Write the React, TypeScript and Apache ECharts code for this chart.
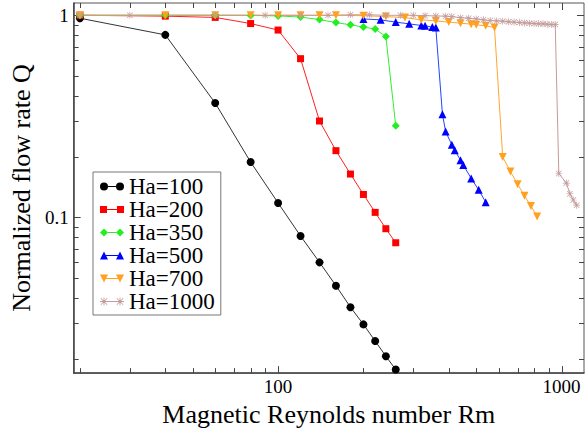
import React, { useEffect, useRef } from "react";
import * as echarts from "echarts";

const SERIF = "Liberation Serif";

const seriesNames = ["Ha=100", "Ha=200", "Ha=350", "Ha=500", "Ha=700", "Ha=1000"];

const ha100X = [20, 40, 60, 80, 100, 120, 140, 160, 180, 200, 220, 240, 260];
const ha100Y = [0.967, 0.8, 0.368, 0.188, 0.118, 0.081, 0.06, 0.046, 0.036, 0.0296, 0.0245, 0.0206, 0.0177];

const ha200X = [20, 40, 60, 80, 100, 120, 140, 160, 180, 200, 220, 240, 260];
const ha200Y = [1.0, 0.99, 0.976, 0.91, 0.845, 0.61, 0.3, 0.214, 0.164, 0.13, 0.106, 0.088, 0.075];

const ha350X = [20, 40, 60, 80, 100, 120, 140, 160, 180, 200, 220, 240, 260];
const ha350Y = [1.0, 1.0, 1.0, 0.998, 0.993, 0.98, 0.952, 0.92, 0.897, 0.874, 0.855, 0.785, 0.284];

const ha500X = [200, 230, 260, 290, 320, 330, 350, 360, 380, 390, 410, 420, 440, 450, 480, 510, 540];
const ha500Y = [0.959, 0.949, 0.925, 0.907, 0.89, 0.887, 0.874, 0.87, 0.324, 0.266, 0.229, 0.215, 0.192, 0.182, 0.156, 0.137, 0.119];

const ha700X = [20, 40, 60, 80, 100, 120, 140, 160, 200, 240, 280, 320, 360, 400, 440, 480, 500, 540, 580, 620, 660, 700, 740, 780, 820];
const ha700Y = [1.0, 1.0, 1.0, 1.0, 1.0, 1.0, 1.0, 1.0, 0.995, 0.985, 0.974, 0.949, 0.938, 0.925, 0.914, 0.904, 0.897, 0.887, 0.87, 0.199, 0.169, 0.146, 0.128, 0.114, 0.101];

const ha1000X = [20, 30, 60, 90, 120, 150, 180, 210, 240, 270, 300, 330, 360, 390, 410, 440, 470, 500, 530, 560, 590, 620, 650, 680, 710, 740, 770, 800, 830, 860, 890, 920, 950, 978, 1040, 1070, 1100, 1130];
const ha1000Y = [1.0, 1.0, 1.0, 1.0, 1.0, 1.0, 1.005, 1.005, 1.0, 1.0, 1.0, 0.996, 0.992, 0.99, 0.985, 0.973, 0.967, 0.959, 0.949, 0.941, 0.938, 0.935, 0.928, 0.925, 0.92, 0.917, 0.914, 0.91, 0.907, 0.907, 0.904, 0.9, 0.9, 0.165, 0.148, 0.131, 0.122, 0.115];

const xMajorTicks = [100, 1000];
const xMinorTicks = [20, 30, 40, 50, 60, 70, 80, 90, 200, 300, 400, 500, 600, 700, 800, 900];
const yMajorTicks = [0.1, 1];
const yMinorTicks = [0.02, 0.03, 0.04, 0.05, 0.06, 0.07, 0.08, 0.09, 0.2, 0.3, 0.4, 0.5, 0.6, 0.7, 0.8, 0.9];

const X_MIN = 19;
const X_MAX = 1200;
const Y_MIN = 0.017;
const Y_MAX = 1.15;

const ASTERISK =
  "path://M0 9H20V11H0Z M9 0H11V20H9Z M1.4 2.8L2.8 1.4L18.6 17.2L17.2 18.6Z M17.2 1.4L18.6 2.8L2.8 18.6L1.4 17.2Z";

// legend icons: short line with a marker at each end (24 x 8 box)
const LEGEND_ICONS = [
  "path://M0 4A4 4 0 1 1 8 4A4 4 0 1 1 0 4Z M16 4A4 4 0 1 1 24 4A4 4 0 1 1 16 4Z M8 3.5H16V4.5H8Z",
  "path://M0 0.5H7V7.5H0Z M17 0.5H24V7.5H17Z M7 3.5H17V4.5H7Z",
  "path://M4 0L8 4L4 8L0 4Z M20 0L24 4L20 8L16 4Z M8 3.5H16V4.5H8Z",
  "path://M4 0L8 8H0Z M20 0L24 8H16Z M6 3.5H18V4.5H6Z",
  "path://M0 0H8L4 8Z M16 0H24L20 8Z M6 3.5H18V4.5H6Z",
  "path://M0 3.6H8V4.4H0Z M3.6 0H4.4V8H3.6Z M0.56 1.12L1.12 0.56L7.44 6.88L6.88 7.44Z M6.88 0.56L7.44 1.12L1.12 7.44L0.56 6.88Z " +
    "M16 3.6H24V4.4H16Z M19.6 0H20.4V8H19.6Z M16.56 1.12L17.12 0.56L23.44 6.88L22.88 7.44Z M22.88 0.56L23.44 1.12L17.12 7.44L16.56 6.88Z " +
    "M8 3.6H16V4.4H8Z",
];

function isPow10(v: number) {
  const l = Math.log10(v);
  return Math.abs(l - Math.round(l)) < 1e-6;
}

function lineSeries(
  name: string,
  xs: number[],
  ys: number[],
  color: string,
  lineColor: string,
  symbol: string,
  size: number,
  rotate = 0
) {
  return {
    type: "line",
    name,
    data: xs.map((x, i) => [x, ys[i]]),
    symbol,
    symbolSize: size,
    symbolRotate: rotate,
    showAllSymbol: true,
    itemStyle: { color, borderWidth: 0 },
    lineStyle: { color: lineColor, width: 1 },
    emphasis: { disabled: true },
    z: 3,
  };
}

export default function App() {
  const ref = useRef<HTMLDivElement>(null);

  useEffect(() => {
    if (!ref.current) return;
    const chart = echarts.init(ref.current, undefined, { renderer: "svg" });

    const tickData = [
      ...xMajorTicks.map((v) => [v, Y_MIN, 0]),
      ...xMinorTicks.map((v) => [v, Y_MIN, 1]),
      ...yMajorTicks.map((v) => [X_MIN, v, 2]),
      ...yMinorTicks.map((v) => [X_MIN, v, 3]),
    ];

    const tickStyle = { stroke: "#444", lineWidth: 1 };

    chart.setOption({
      animation: false,
      backgroundColor: "#fff",
      textStyle: { fontFamily: SERIF },
      grid: {
        left: 67,
        top: 3,
        right: -1,
        bottom: 53,
        show: true,
        borderColor: "#555",
        borderWidth: 1,
        backgroundColor: "transparent",
      },
      legend: {
        orient: "vertical",
        left: 93,
        top: 172,
        padding: [3, 6, 2, 7],
        itemGap: 0,
        itemWidth: 24,
        itemHeight: 8,
        backgroundColor: "#fff",
        borderColor: "#777",
        borderWidth: 1,
        itemStyle: { borderWidth: 0 },
        textStyle: { fontFamily: SERIF, fontSize: 23, color: "#000", lineHeight: 21.3 },
        data: seriesNames.map((name, i) => ({ name, icon: LEGEND_ICONS[i] })),
        selectedMode: false,
      },
      xAxis: {
        type: "log",
        logBase: 10,
        min: X_MIN,
        max: X_MAX,
        name: "Magnetic Reynolds number Rm",
        nameLocation: "middle",
        nameGap: 21,
        nameTextStyle: { fontFamily: SERIF, fontSize: 26, color: "#000" },
        axisLine: { show: true, lineStyle: { color: "#444", width: 1.5 } },
        axisTick: { show: false },
        splitLine: { show: false },
        minorTick: { show: false },
        axisLabel: {
          fontFamily: SERIF,
          fontSize: 19,
          color: "#000",
          margin: 4,
          formatter: (v: number) => (isPow10(v) ? String(v) : ""),
        },
      },
      yAxis: {
        type: "log",
        logBase: 10,
        min: Y_MIN,
        max: Y_MAX,
        name: "Normalized flow rate Q",
        nameLocation: "middle",
        nameGap: 25,
        nameTextStyle: { fontFamily: SERIF, fontSize: 26, color: "#000" },
        axisLine: { show: true, lineStyle: { color: "#444", width: 1.5 } },
        axisTick: { show: false },
        splitLine: { show: false },
        minorTick: { show: false },
        axisLabel: {
          fontFamily: SERIF,
          fontSize: 19,
          color: "#000",
          margin: 5,
          formatter: (v: number) => (isPow10(v) ? String(v) : ""),
        },
      },
      series: [
        {
          type: "custom",
          name: "ticks",
          silent: true,
          clip: false,
          z: 2,
          data: tickData,
          encode: { x: 0, y: 1 },
          renderItem: (params: any, api: any) => {
            const t = api.value(2);
            const p = api.coord([api.value(0), api.value(1)]);
            const cs = params.coordSys;
            const len = t % 2 === 0 ? 7 : 5;
            if (t < 2) {
              const x = Math.round(p[0]) + 0.5;
              return {
                type: "group",
                children: [
                  { type: "line", shape: { x1: x, y1: cs.y + cs.height, x2: x, y2: cs.y + cs.height - len }, style: tickStyle },
                  { type: "line", shape: { x1: x, y1: cs.y, x2: x, y2: cs.y + len }, style: tickStyle },
                ],
              };
            }
            const y = Math.round(p[1]) + 0.5;
            return {
              type: "group",
              children: [
                { type: "line", shape: { x1: cs.x, y1: y, x2: cs.x + len, y2: y }, style: tickStyle },
                { type: "line", shape: { x1: cs.x + cs.width, y1: y, x2: cs.x + cs.width - len, y2: y }, style: tickStyle },
              ],
            };
          },
        },
        lineSeries("Ha=100", ha100X, ha100Y, "#000000", "#333333", "circle", 8),
        lineSeries("Ha=200", ha200X, ha200Y, "#ff0000", "#ff2020", "rect", 7),
        lineSeries("Ha=350", ha350X, ha350Y, "#22ee22", "#33ee33", "diamond", 8),
        lineSeries("Ha=500", ha500X, ha500Y, "#0000ff", "#2244ff", "triangle", 8),
        lineSeries("Ha=700", ha700X, ha700Y, "#ffa020", "#ffa530", "triangle", 8, 180),
        lineSeries("Ha=1000", ha1000X, ha1000Y, "#c49a9a", "#c49a9a", ASTERISK, 7),
      ],
    });

    return () => chart.dispose();
  }, []);

  return (
    <div
      ref={ref}
      style={{ position: "absolute", left: 0, top: 0, width: 587, height: 432 }}
    />
  );
}
